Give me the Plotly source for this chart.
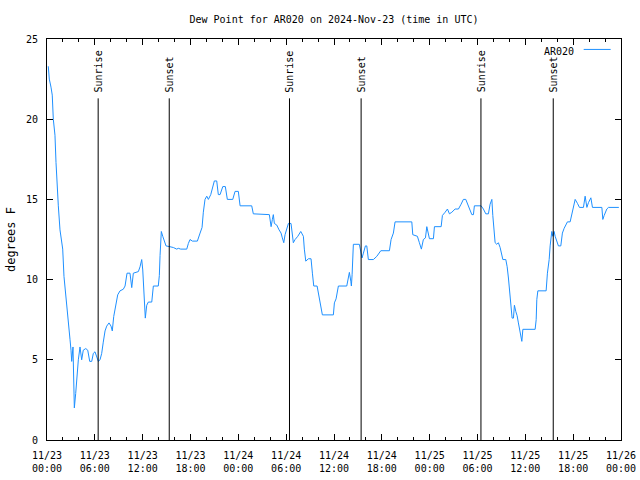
import pandas as pd
import plotly.graph_objects as go

start = pd.Timestamp("2024-11-23 00:00")

# hours since 2024-11-23 00:00 UTC
hours = [0.16, 0.29, 0.50, 0.66, 0.79, 1.00, 1.13, 1.25, 1.42, 1.63, 1.84, 1.97, 2.13, 2.30, 2.47, 2.67,
         2.89, 3.01, 3.10, 3.26, 3.35, 3.43, 3.60, 3.76, 3.93, 4.14, 4.35, 4.55, 4.86, 5.11, 5.36, 5.61,
         5.81, 6.02, 6.24, 6.44, 6.65, 6.86, 7.06, 7.28, 7.49, 7.78, 8.03, 8.19, 8.37, 8.62, 8.87, 9.16,
         9.57, 9.79, 10.04, 10.41, 10.63, 10.83, 11.46, 11.67, 11.88, 12.01, 12.21, 12.33, 12.51, 12.71,
         13.14, 13.26, 13.34, 13.96, 14.09, 14.18, 14.34, 14.52, 14.68, 14.93, 15.43, 15.85, 16.27, 16.47,
         16.78, 17.53, 17.73, 17.94, 18.23, 18.86, 19.20, 19.45, 19.61, 19.82, 20.04, 20.24, 20.54, 20.79,
         20.99, 21.29, 21.49, 21.71, 22.05, 22.37, 22.62, 23.30, 23.59, 24.00, 24.22, 25.68, 25.88, 27.89,
         28.11, 28.27, 28.39, 28.52, 28.82, 29.11, 29.36, 29.52, 29.70, 29.86, 30.08, 30.28, 30.61, 30.78,
         30.90, 31.12, 31.46, 31.83, 32.16, 32.28, 32.46, 32.79, 33.12, 33.29, 33.46, 33.88, 34.04, 34.29,
         34.54, 35.92, 36.05, 36.26, 36.55, 37.60, 37.80, 37.93, 38.11, 38.18, 38.27, 38.36, 38.43, 39.18,
         39.36, 39.52, 39.69, 39.94, 40.11, 40.31, 40.94, 41.37, 41.87, 42.95, 43.16, 43.45, 43.66, 45.76,
         45.88, 46.46, 46.71, 46.96, 47.21, 47.47, 47.64, 47.77, 47.97, 48.47, 48.60, 49.44, 49.60, 49.94,
         50.23, 50.48, 50.78, 51.19, 51.61, 51.94, 52.23, 52.53, 52.86, 53.29, 53.49, 53.61, 54.45, 54.74,
         55.04, 55.37, 55.58, 55.80, 55.92, 56.05, 56.21, 56.42, 56.62, 56.84, 57.05, 57.18, 57.55, 57.72,
         57.88, 58.01, 58.13, 58.22, 58.34, 58.51, 58.63, 58.81, 58.97, 59.13, 59.31, 59.44, 59.56, 59.69,
         61.23, 61.36, 61.44, 61.57, 62.61, 62.77, 62.99, 63.11, 63.24, 63.32, 63.45, 63.61, 63.74, 63.95,
         64.15, 64.45, 64.65, 64.87, 65.08, 65.28, 65.62, 65.83, 66.04, 66.25, 66.54, 66.79, 67.29, 67.50,
         67.72, 67.92, 68.22, 68.42, 69.60, 69.72, 69.89, 70.22, 70.43, 71.73]

dew_point = [23.3, 22.5, 22.0, 21.5, 20.0, 19.0, 17.3, 15.8, 14.6, 13.1, 12.5, 11.9, 10.2, 9.2, 8.3, 7.1,
             6.25, 5.6, 4.9, 5.8, 4.0, 2.0, 2.9, 4.0, 5.0, 5.8, 5.0, 5.6, 5.7, 5.6, 4.9, 4.9,
             5.4, 5.5, 5.2, 4.9, 5.0, 5.4, 6.1, 6.8, 7.1, 7.3, 7.1, 6.8, 7.7, 8.3, 9.05, 9.3,
             9.4, 9.6, 10.4, 10.4, 9.5, 10.4, 10.5, 10.8, 11.25, 10.6, 8.1, 7.6, 8.4, 8.6,
             8.6, 9.2, 9.6, 9.6, 10.25, 11.5, 13.0, 12.7, 12.5, 12.1, 12.05, 12.0, 11.9, 11.95,
             11.9, 11.9, 12.25, 12.5, 12.4, 12.4, 12.9, 13.25, 14.2, 15.0, 15.2, 15.0, 15.3, 15.8,
             16.15, 16.15, 15.3, 15.3, 15.8, 15.8, 15.0, 15.0, 15.5, 15.5, 14.6, 14.6, 14.1, 14.05,
             13.3, 13.75, 14.05, 13.5, 13.4, 13.1, 12.9, 12.6, 12.3, 12.8, 13.2, 13.5, 13.5, 12.9,
             12.3, 12.5, 12.7, 13.0, 12.7, 11.9, 11.15, 11.3, 11.3, 10.4, 9.6, 9.6, 9.2, 8.65,
             7.8, 7.8, 8.55, 8.8, 9.6, 9.6, 10.1, 10.45, 9.9, 9.6, 10.3, 11.45, 12.2, 12.2,
             11.8, 11.35, 11.65, 12.1, 12.1, 11.25, 11.25, 11.45, 11.8, 11.8, 12.5, 12.9, 13.6, 13.6,
             12.8, 12.7, 12.3, 11.9, 12.5, 12.6, 13.3, 12.9, 12.55, 12.55, 13.3, 13.3, 14.0, 14.2,
             14.4, 14.1, 14.2, 14.4, 14.4, 14.7, 15.0, 15.0, 14.6, 14.05, 14.05, 14.6, 14.6, 14.4,
             14.1, 14.1, 14.7, 15.0, 14.0, 13.35, 12.3, 12.2, 12.3, 12.0, 11.6, 11.25, 11.25, 10.8,
             10.1, 9.4, 8.65, 7.95, 7.6, 7.6, 8.4, 8.0, 7.75, 7.3, 6.9, 6.45, 6.15, 6.9,
             6.9, 7.5, 8.75, 9.3, 9.3, 10.4, 11.25, 12.1, 12.7, 13.0, 12.7, 13.0, 12.7, 12.4,
             12.1, 12.1, 12.9, 13.2, 13.45, 13.6, 13.6, 14.05, 14.6, 15.0, 14.75, 14.5, 14.5, 15.2,
             14.5, 14.8, 15.1, 14.5, 14.5, 13.75, 14.0, 14.4, 14.5, 14.5]

sun_events = ["2024-11-23 06:25", "2024-11-23 15:20", "2024-11-24 06:25",
              "2024-11-24 15:24", "2024-11-25 06:26", "2024-11-25 15:30"]
sun_labels = ["Sunrise", "Sunset", "Sunrise", "Sunset", "Sunrise", "Sunset"]

times = start + pd.to_timedelta(hours, unit="h")

FONT = "DejaVu Sans Mono"
BLUE = "#1e90ff"

fig = go.Figure()
fig.add_trace(go.Scatter(x=times, y=dew_point, mode="lines",
                         line=dict(color=BLUE, width=1), name="AR020", showlegend=False))

for t, lab in zip(sun_events, sun_labels):
    fig.add_shape(type="line", x0=t, x1=t, xref="x", yref="paper", y0=0, y1=0.852,
                  line=dict(color="black", width=1))
    fig.add_annotation(x=t, xref="x", y=0.862, yref="paper", text=lab, textangle=-90,
                       showarrow=False, xanchor="center", yanchor="bottom",
                       font=dict(family=FONT, size=10, color="black"))

# legend (gnuplot style: text then line sample)
fig.add_annotation(x=0.922, xref="paper", y=0.968, yref="paper", text="AR020",
                   showarrow=False, xanchor="right", yanchor="middle",
                   font=dict(family=FONT, size=10, color="black"))
fig.add_shape(type="line", xref="paper", yref="paper", x0=0.935, x1=0.982, y0=0.974, y1=0.974,
              line=dict(color=BLUE, width=1))

fig.update_layout(
    width=640, height=480,
    margin=dict(l=47, r=19, t=39, b=40, autoexpand=False),
    paper_bgcolor="white", plot_bgcolor="white",
    font=dict(family=FONT, size=10, color="black"),
    title=dict(text="Dew Point for AR020 on 2024-Nov-23 (time in UTC)", x=0.5, xref="paper",
               y=0.96, yanchor="middle", font=dict(family=FONT, size=10, color="black")),
    showlegend=False,
)
fig.update_xaxes(
    type="date", range=["2024-11-23 00:00", "2024-11-26 00:00"], automargin=False,
    tick0="2024-11-23 00:00", dtick=6 * 3600 * 1000, tickformat="%m/%d<br>%H:%M",
    ticks="inside", ticklen=6, tickcolor="black", showline=True, linecolor="black", linewidth=1,
    mirror="ticks", showgrid=False, zeroline=False, ticklabelstandoff=6,
    minor=dict(dtick=2 * 3600 * 1000, ticks="inside", ticklen=3, tickcolor="black", showgrid=False),
)
fig.update_yaxes(
    range=[0, 25], dtick=5, ticks="inside", ticklen=6, tickcolor="black", automargin=False,
    showline=True, linecolor="black", linewidth=1, mirror="ticks", showgrid=False, zeroline=False,
    ticklabelstandoff=6,
    title=dict(text="degrees F", standoff=7),
)

fig.write_html("out.html", post_script="document.body.style.margin='0';",
               config={"displayModeBar": False})
